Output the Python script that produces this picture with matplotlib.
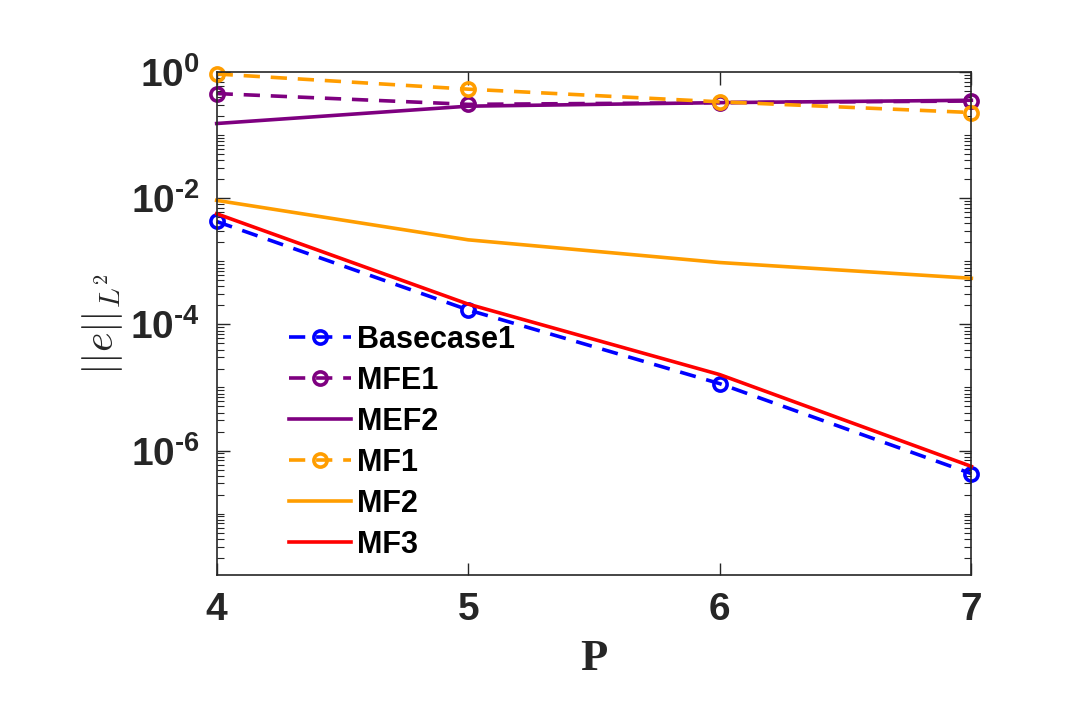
import numpy as np
import matplotlib.pyplot as plt
from matplotlib.ticker import LogLocator, NullFormatter, FixedLocator

P = [4, 5, 6, 7]

basecase1 = [4.3e-3, 1.7e-4, 1.15e-5, 4.3e-7]
mfe1 = [0.46, 0.31, 0.33, 0.35]
mef2 = [0.154, 0.29, 0.33, 0.36]
mf1 = [0.94, 0.54, 0.34, 0.23]
mf2 = [9.3e-3, 2.2e-3, 9.6e-4, 5.4e-4]
mf3 = [5.7e-3, 2.1e-4, 1.6e-5, 5.6e-7]

ytick_vals = [1e-6, 1e-4, 1e-2, 1e0]
ytick_labels = [r'$\mathbf{10^{\text{-}6}}$', r'$\mathbf{10^{\text{-}4}}$',
                r'$\mathbf{10^{\text{-}2}}$', r'$\mathbf{10^{0}}$']

purple = '#7E0080'
orange = '#FF9D00'
grey = '#262626'

plt.rcParams['font.family'] = ['Liberation Sans', 'DejaVu Sans']
plt.rcParams['mathtext.fontset'] = 'custom'
plt.rcParams['mathtext.rm'] = 'Liberation Sans:bold'
plt.rcParams['mathtext.bf'] = 'Liberation Sans:bold'
plt.rcParams['mathtext.it'] = 'Liberation Sans:bold'

fig = plt.figure(figsize=(10.8, 7.2), dpi=100)
ax = fig.add_axes([0.2006, 0.201, 0.6988, 0.6986])

lw = 2.6
dash = (4.5, 3)
mk = dict(marker='o', markersize=9.5, markerfacecolor='none', markeredgewidth=2.6)

# draw all series, markers may overhang the frame
ax.plot(P, basecase1, color='#0000FF', lw=lw, linestyle='--', dashes=dash, label='Basecase1', clip_on=False, **mk)
ax.plot(P, mfe1, color=purple, lw=lw, linestyle='--', dashes=dash, label='MFE1', clip_on=False, **mk)
ax.plot(P, mef2, color=purple, lw=lw, label='MEF2', clip_on=False)
ax.plot(P, mf1, color=orange, lw=lw, linestyle='--', dashes=dash, label='MF1', clip_on=False, **mk)
ax.plot(P, mf2, color=orange, lw=lw, label='MF2', clip_on=False)
ax.plot(P, mf3, color='#FF0000', lw=lw, label='MF3', clip_on=False)

ax.set_yscale('log')
ax.set_xlim(4, 7)
ax.set_ylim(1.05e-8, 1)
ax.set_xticks(P)
ax.yaxis.set_major_locator(FixedLocator(ytick_vals))
ax.yaxis.set_minor_locator(LogLocator(base=10, subs=np.arange(1, 10), numticks=30))
ax.yaxis.set_minor_formatter(NullFormatter())
ax.set_yticklabels(ytick_labels)

ax.tick_params(axis='both', which='both', direction='in', top=True, right=True, colors=grey)
ax.tick_params(axis='both', which='major', length=9, width=1.0, labelsize=28, pad=12)
ax.tick_params(axis='y', which='minor', length=5, width=0.8)
for lab in ax.get_xticklabels():
    lab.set_fontweight('bold')
for sp in ax.spines.values():
    sp.set_color(grey)
    sp.set_linewidth(1.2)

ax.set_xlabel('P', fontsize=32, fontweight='bold', family='Liberation Serif', color=grey, labelpad=8)
ax.set_ylabel(r'$||e||_{L^2}$', fontsize=30, color=grey, labelpad=4, math_fontfamily='cm')

leg = ax.legend(loc='lower left', bbox_to_anchor=(0.06, -0.024), frameon=False,
                prop={'weight': 'bold', 'size': 22}, handlelength=2.0, handletextpad=0.2,
                labelspacing=0.36)

fig.savefig('out.png', dpi=100)
